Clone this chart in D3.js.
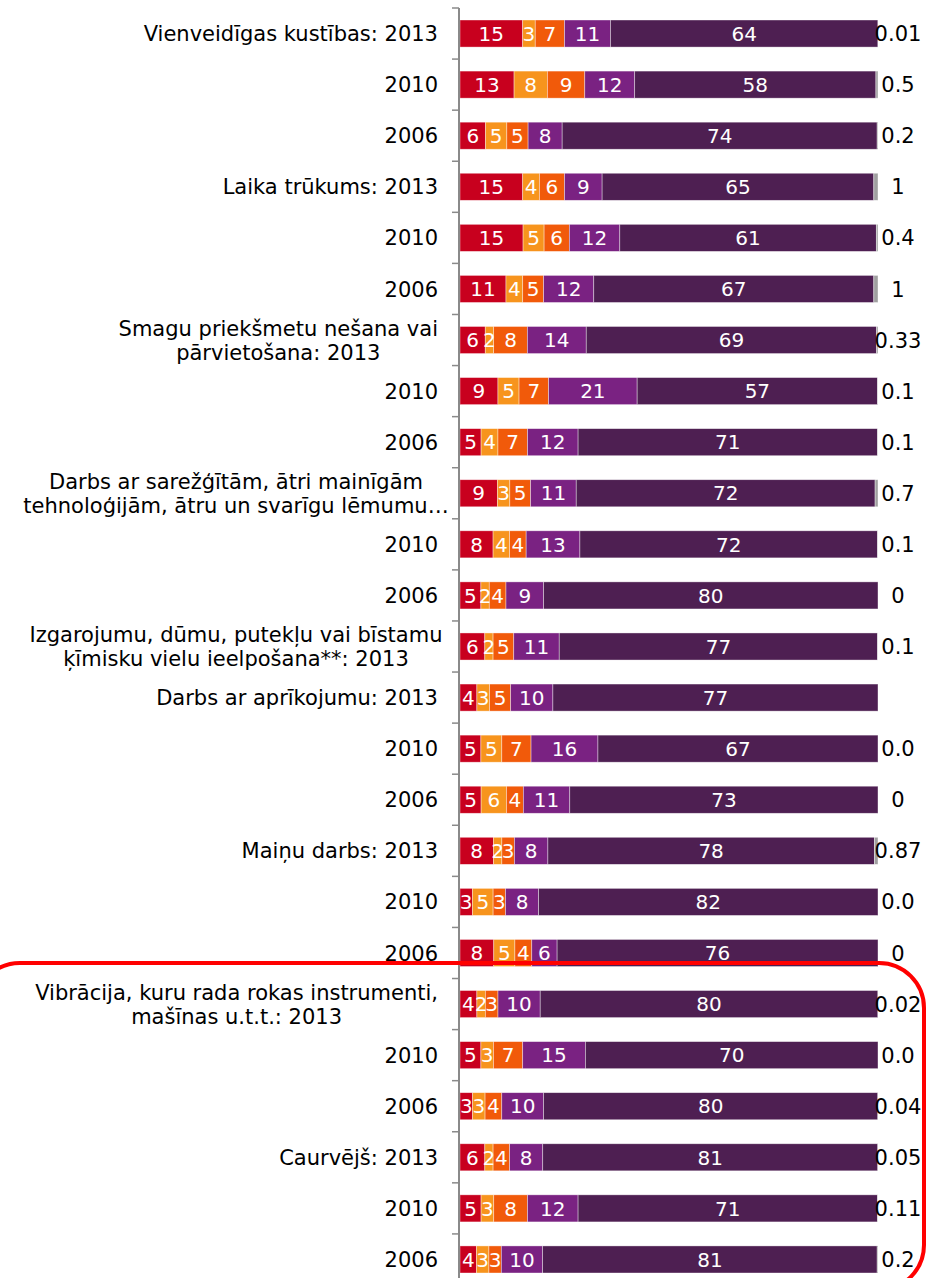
<!DOCTYPE html>
<html>
<head>
<meta charset="utf-8">
<script src="https://cdn.jsdelivr.net/npm/d3@7"></script>
<style>
	body { margin: 0; background: #fff; }
	svg { display: block; font-family: "DejaVu Sans", Verdana, sans-serif; }
</style>
</head>
<body>
<svg id="chart" width="926" height="1278"></svg>
<script>

// row labels, "|" splits a label into two lines
const ROW_LABELS = [
	'Vienveidīgas kustības: 2013', '2010', '2006',
	'Laika trūkums: 2013', '2010', '2006',
	'Smagu priekšmetu nešana vai|pārvietošana: 2013', '2010', '2006',
	'Darbs ar sarežģītām, ātri mainīgām|tehnoloģijām, ātru un svarīgu lēmumu…', '2010', '2006',
	'Izgarojumu, dūmu, putekļu vai bīstamu|ķīmisku vielu ieelpošana**: 2013',
	'Darbs ar aprīkojumu: 2013', '2010', '2006',
	'Maiņu darbs: 2013', '2010', '2006',
	'Vibrācija, kuru rada rokas instrumenti,|mašīnas u.t.t.: 2013', '2010', '2006',
	'Caurvējš: 2013', '2010', '2006'
];

const SERIES_1 = [15, 13, 6, 15, 15, 11, 6, 9, 5, 9, 8, 5, 6, 4, 5, 5, 8, 3, 8, 4, 5, 3, 6, 5, 4];
const SERIES_2 = [3, 8, 5, 4, 5, 4, 2, 5, 4, 3, 4, 2, 2, 3, 5, 6, 2, 5, 5, 2, 3, 3, 2, 3, 3];
const SERIES_3 = [7, 9, 5, 6, 6, 5, 8, 7, 7, 5, 4, 4, 5, 5, 7, 4, 3, 3, 4, 3, 7, 4, 4, 8, 3];
const SERIES_4 = [11, 12, 8, 9, 12, 12, 14, 21, 12, 11, 13, 9, 11, 10, 16, 11, 8, 8, 6, 10, 15, 10, 8, 12, 10];
const SERIES_5 = [64, 58, 74, 65, 61, 67, 69, 57, 71, 72, 72, 80, 77, 77, 67, 73, 78, 82, 76, 80, 70, 80, 81, 71, 81];
// small rest value, shown as label at the right end
const SERIES_6 = ['0.01', '0.5', '0.2', '1', '0.4', '1', '0.33', '0.1', '0.1', '0.7', '0.1', '0', '0.1', null,
	'0.0', '0', '0.87', '0.0', '0', '0.02', '0.0', '0.04', '0.05', '0.11', '0.2'];

const COLORS = ['#c8001e', '#f7941d', '#f15a0a', '#7a2282', '#4e1f52', '#a0a0a0'];
const KEYS = ['s1', 's2', 's3', 's4', 's5', 's6'];

const svg = d3.select('#chart');

const rows = ROW_LABELS.map((label, i) => ({
	label: label,
	s1: SERIES_1[i], s2: SERIES_2[i], s3: SERIES_3[i],
	s4: SERIES_4[i], s5: SERIES_5[i],
	s6: SERIES_6[i] === null ? 0 : +SERIES_6[i],
	rest: SERIES_6[i]
}));

const axis_x = 459;

const y = d3.scaleBand()
	.domain(d3.range(rows.length))
	.range([8, 1285])
	.paddingInner(0.47)
	.paddingOuter(0.235);

const x = d3.scaleLinear()
	.domain([0, 1])
	.range([460, 878]);

// every row is stretched to 100%
const stacked = d3.stack()
	.keys(KEYS)
	.offset(d3.stackOffsetExpand)(rows);

const layers = svg.append('g')
	.selectAll('g')
	.data(stacked)
	.enter()
	.append('g')
	.attr('fill', (d, i) => COLORS[i]);

layers.selectAll('rect')
	.data(d => d)
	.enter()
	.append('rect')
	.attr('x', d => x(d[0]))
	.attr('y', (d, i) => y(i))
	.attr('width', d => Math.max(0, x(d[1]) - x(d[0])))
	.attr('height', y.bandwidth())
	.attr('stroke', '#fff')
	.attr('stroke-width', 0.7)
	.attr('stroke-opacity', 0.55);

// values inside the bars (first five series)
stacked.slice(0, 5).forEach((layer, k) => {
	svg.append('g')
		.selectAll('text')
		.data(layer)
		.enter()
		.append('text')
		.attr('x', d => (x(d[0]) + x(d[1])) / 2)
		.attr('y', (d, i) => y(i) + y.bandwidth() / 2)
		.attr('dy', '0.36em')
		.attr('text-anchor', 'middle')
		.attr('fill', '#fff')
		.style('font-size', '20px')
		.text(d => d.data[KEYS[k]]);
});

// rest labels at the right, pushed back inside the picture when too wide
const rest_labels = svg.append('g')
	.selectAll('text')
	.data(rows.map((r, i) => ({ i: i, t: r.rest })).filter(d => d.t !== null))
	.enter()
	.append('text')
	.attr('y', d => y(d.i) + y.bandwidth() / 2)
	.attr('dy', '0.36em')
	.attr('text-anchor', 'middle')
	.attr('fill', '#000')
	.style('font-size', '21px')
	.text(d => d.t);

rest_labels.each(function() {
	const w = this.getComputedTextLength();
	const cx = Math.min(898, 922 - w / 2);
	d3.select(this).attr('x', cx);
});

// axis with ticks on the band borders
const axis_g = svg.append('g');
axis_g.append('line')
	.attr('x1', axis_x).attr('x2', axis_x)
	.attr('y1', 8).attr('y2', 1278)
	.attr('stroke', '#8a8a8a')
	.attr('stroke-width', 2);

axis_g.selectAll('.tick')
	.data(d3.range(rows.length + 1))
	.enter()
	.append('line')
	.attr('x1', axis_x - 7).attr('x2', axis_x)
	.attr('y1', i => 8 + i * y.step())
	.attr('y2', i => 8 + i * y.step())
	.attr('stroke', '#8a8a8a')
	.attr('stroke-width', 1.5);

// category labels
const label_g = svg.append('g')
	.selectAll('text')
	.data(rows)
	.enter()
	.append('text')
	.attr('fill', '#000')
	.style('font-size', '21px');

label_g.each(function(d, i) {
	const lines = d.label.split('|');
	const el = d3.select(this);
	const cy = y(i) + y.bandwidth() / 2;
	if (lines.length === 1) {
		el.attr('x', 438).attr('y', cy).attr('dy', '0.36em')
			.attr('text-anchor', 'end').text(lines[0]);
		return;
	}
	const spans = el.selectAll('tspan')
		.data(lines)
		.enter()
		.append('tspan')
		.attr('y', (l, j) => cy + (j - 0.5) * 24)
		.attr('dy', '0.36em')
		.text(l => l);
	let max_w = 0;
	spans.each(function() { max_w = Math.max(max_w, this.getComputedTextLength()); });
	const mid = Math.max(438 - max_w / 2, 236);
	spans.attr('x', mid).attr('text-anchor', 'middle');
});

// red highlight drawn over the chart
svg.append('rect')
	.attr('x', -25)
	.attr('y', 963)
	.attr('width', 949)
	.attr('height', 327)
	.attr('rx', 45)
	.attr('fill', 'none')
	.attr('stroke', '#ff0000')
	.attr('stroke-width', 4);

</script>
</body>
</html>
